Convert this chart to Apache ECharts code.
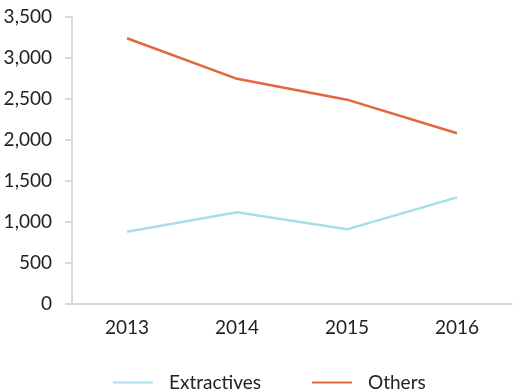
<!DOCTYPE html>
<html><head><meta charset="utf-8">
<script src="https://cdn.jsdelivr.net/npm/echarts@6/dist/echarts.min.js"></script>
<style>html,body{margin:0;padding:0;background:#fff}#c{width:514px;height:391px}</style>
</head><body><div id="c"></div>
<script>
const categories = ['2013','2014','2015','2016'];
const extractives = [877, 1114, 906, 1297];
const others = [3240, 2745, 2490, 2080];
const yTicks = [0, 500, 1000, 1500, 2000, 2500, 3000, 3500];

const font = 'Lato';
const chart = echarts.init(document.getElementById('c'), null, {renderer:'canvas'});
chart.setOption({
  animation: false,
  grid: {left: 72, right: 2, top: 17, bottom: 87.5, containLabel: false},
  legend: {
    top: 368, left: 108,
    icon: 'rect', itemWidth: 40, itemHeight: 2, itemGap: 51,
    textStyle: {fontFamily: font, fontSize: 19, color: '#222', padding: [0,0,0,11]},
    data: ['Extractives','Others']
  },
  xAxis: {
    type: 'category', data: categories, boundaryGap: true,
    axisLine: {lineStyle: {color: '#d9d9d9', width: 2}},
    axisTick: {length: 7, lineStyle: {color: '#d9d9d9', width: 2}},
    axisLabel: {fontFamily: font, fontSize: 19, color: '#222', margin: 15}
  },
  yAxis: {
    type: 'value', min: yTicks[0], max: yTicks[yTicks.length-1], interval: 500,
    axisLine: {show: true, lineStyle: {color: '#d9d9d9', width: 2}},
    axisTick: {show: true, length: 7, lineStyle: {color: '#d9d9d9', width: 2}},
    splitLine: {show: false},
    axisLabel: {fontFamily: font, fontSize: 19, color: '#222', margin: 20,
      formatter: v => v.toLocaleString('en-US')}
  },
  series: [
    {name: 'Extractives', type: 'line', data: extractives, symbol: 'none',
     itemStyle: {color: '#a9dde9'}, lineStyle: {color: '#a9dde9', width: 2.5}},
    {name: 'Others', type: 'line', data: others, symbol: 'none',
     itemStyle: {color: '#e2673f'}, lineStyle: {color: '#e2673f', width: 2.5}}
  ]
});
</script></body></html>
